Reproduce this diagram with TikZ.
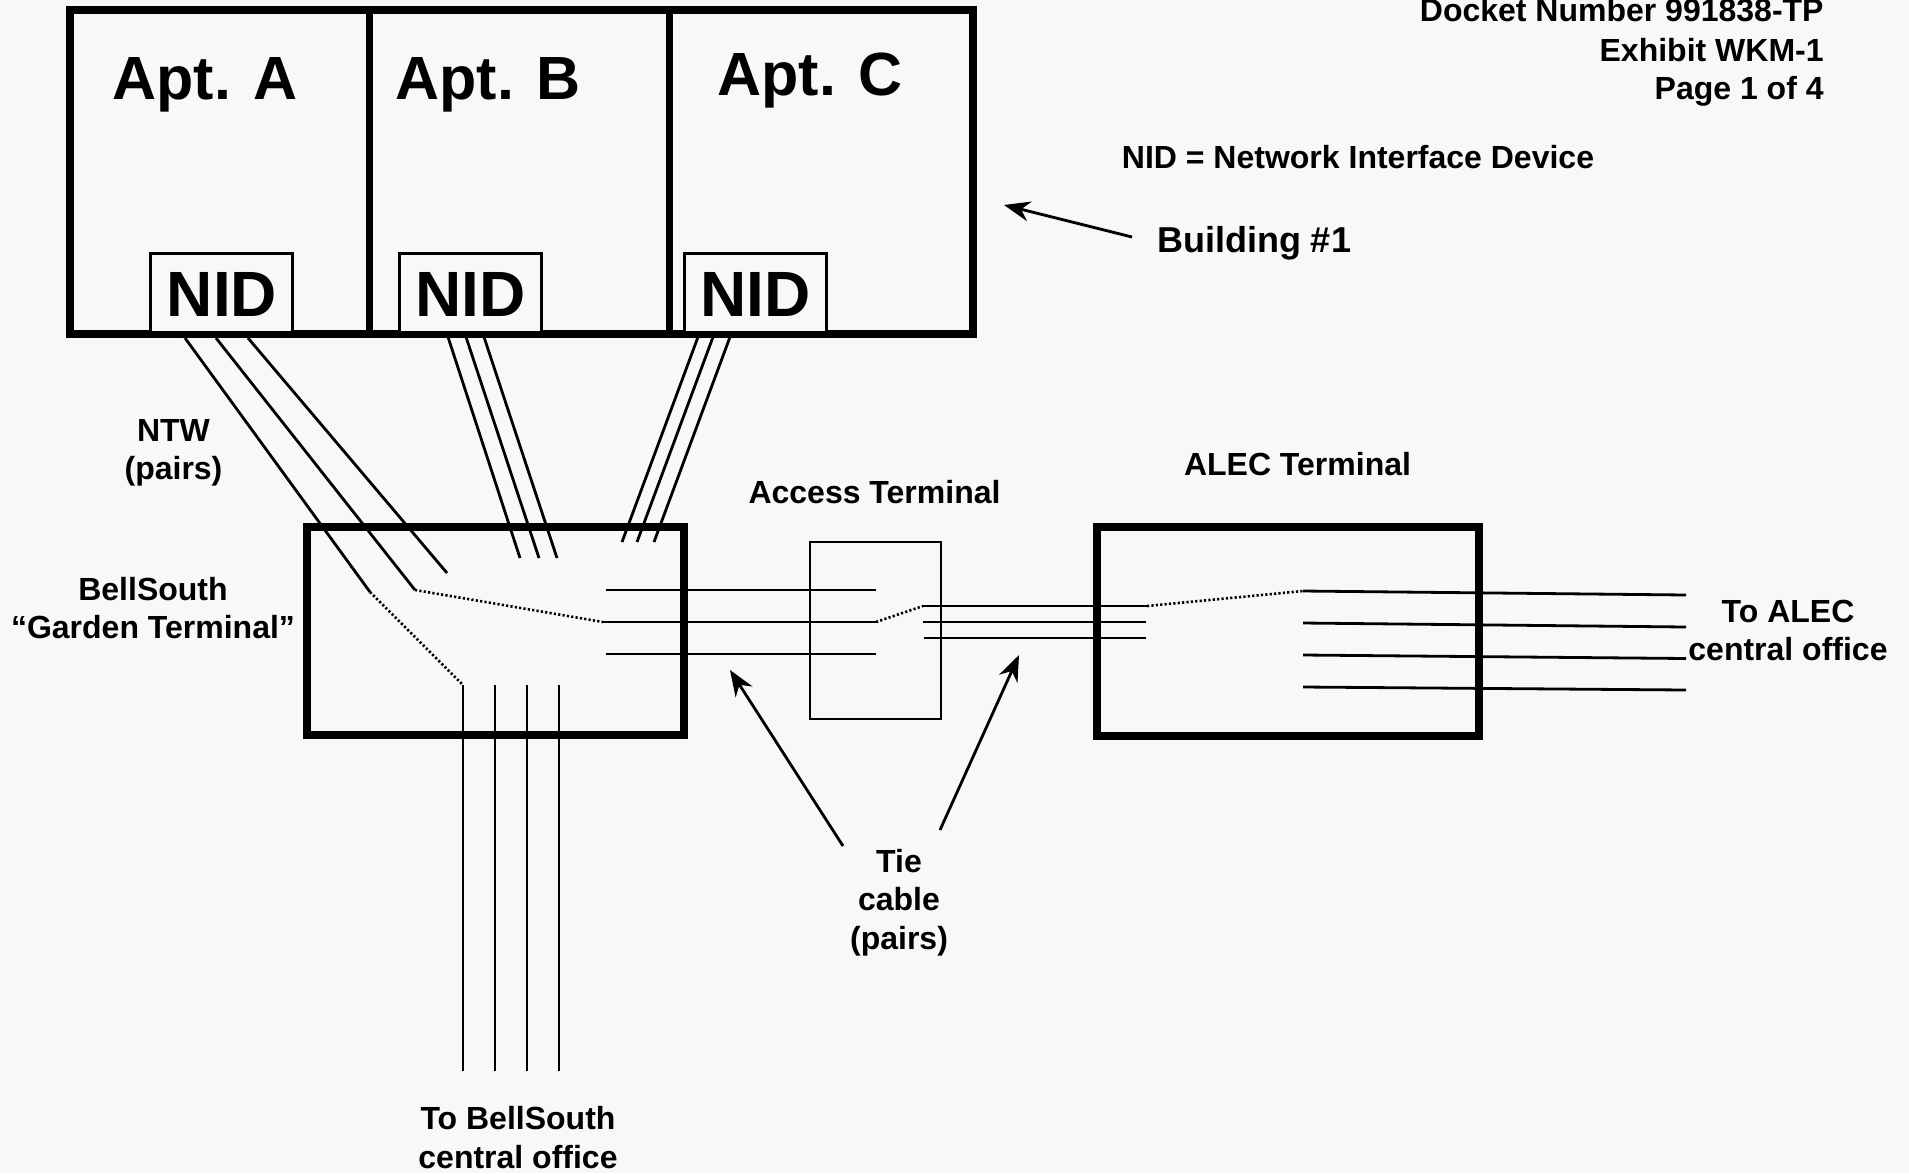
\documentclass[tikz,border=0pt]{standalone}
\usepackage{fontspec}
\setmainfont{Liberation Sans}
\usetikzlibrary{arrows.meta}
\definecolor{paper}{HTML}{F8F8F8}
\tikzset{
  wall/.style={draw=black,rectangle,inner sep=0pt,line width=4pt},
  room/.style={draw=black,line width=3.5pt},
  nidbox/.style={draw=black,fill=paper,rectangle,inner sep=0pt,line width=1.5pt,minimum width=71pt,minimum height=39.5pt},
  lightbox/.style={draw=black,rectangle,inner sep=0pt,line width=1.2pt},
  pair/.style={draw=black,line width=1.4pt},
  jumper/.style={draw=black,line width=1.3pt,dash pattern=on 1.1pt off 1.1pt},
  pointer/.style={draw=black,line width=1.4pt,-{Stealth[length=13pt,width=10pt]}},
  big/.style={font=\bfseries\fontsize{32}{38}\selectfont,anchor=base,inner sep=0pt},
  apt/.style={font=\bfseries\fontsize{30.5}{36}\selectfont,anchor=base,inner sep=0pt},
  lab/.style={font=\bfseries\fontsize{16}{19.25}\selectfont,align=center,inner sep=0pt},
  lead/.style={font=\bfseries\fontsize{18}{22}\selectfont,inner sep=0pt}
}
\begin{document}
\begin{tikzpicture}[x=0.5pt,y=-0.5pt]
\useasboundingbox (0,0) rectangle (1909,1173);
\fill[paper] (0,0) rectangle (1909,1173);
\clip (0,0) rectangle (1909,1173);

% building
\node[wall,minimum width=451.5pt,minimum height=162pt] (bldg) at (521.5,172) {};
\coordinate (d1t) at (369,10); \coordinate (d1b) at (369,334);
\coordinate (d2t) at (669,10); \coordinate (d2b) at (669,334);
\draw[room] (d1t) -- (d1b);
\draw[room] (d2t) -- (d2b);
\node[nidbox] (nidAbox) at (221,293) {};
\node[nidbox] (nidBbox) at (470.5,293) {};
\node[nidbox] (nidCbox) at (755.5,293) {};
\node[big] (nidA) at (222,316.5) {NID};
\node[big] (nidB) at (470.5,316.5) {NID};
\node[big] (nidC) at (755.5,316.5) {NID};
\node[apt] (aptA) at (205,99) {Apt. A};
\node[apt] (aptB) at (488,99.5) {Apt. B};
\node[apt] (aptC) at (810,95.5) {Apt. C};

% terminals
\node[wall,minimum width=188.5pt,minimum height=104pt] (garden) at (495.5,631) {};
\node[lightbox,minimum width=65.5pt,minimum height=88.5pt] (access) at (875.5,630.5) {};
\node[wall,minimum width=191pt,minimum height=104.5pt] (alec) at (1288,631.5) {};

% NTW pairs
\coordinate (a1) at (185,338); \coordinate (a1e) at (370,592);
\coordinate (a2) at (216,338); \coordinate (a2e) at (415,590);
\coordinate (a3) at (248,338); \coordinate (a3e) at (447,573);
\coordinate (b1) at (448,337); \coordinate (b1e) at (520,558);
\coordinate (b2) at (466,337); \coordinate (b2e) at (539,558);
\coordinate (b3) at (484,337); \coordinate (b3e) at (557,558);
\coordinate (c1) at (698,337); \coordinate (c1e) at (622,542);
\coordinate (c2) at (713,337); \coordinate (c2e) at (637,542);
\coordinate (c3) at (730,337); \coordinate (c3e) at (654,542);
\foreach \s/\e in {a1/a1e,a2/a2e,a3/a3e,b1/b1e,b2/b2e,b3/b3e,c1/c1e,c2/c2e,c3/c3e}
  \draw[pair] (\s) -- (\e);

% to BellSouth central office
\coordinate (v1) at (463,685); \coordinate (v1e) at (463,1071);
\coordinate (v2) at (495,685); \coordinate (v2e) at (495,1071);
\coordinate (v3) at (527,685); \coordinate (v3e) at (527,1071);
\coordinate (v4) at (559,685); \coordinate (v4e) at (559,1071);
\foreach \s/\e in {v1/v1e,v2/v2e,v3/v3e,v4/v4e}
  \draw[pair] (\s) -- (\e);

% tie cable, garden to access
\coordinate (t1) at (606,590); \coordinate (t1e) at (876,590);
\coordinate (t2) at (603,622); \coordinate (t2e) at (876,622);
\coordinate (t3) at (606,654); \coordinate (t3e) at (876,654);
\foreach \s/\e in {t1/t1e,t2/t2e,t3/t3e}
  \draw[pair] (\s) -- (\e);

% tie cable, access to ALEC
\coordinate (u1) at (923,606); \coordinate (u1e) at (1147,606);
\coordinate (u2) at (923,622); \coordinate (u2e) at (1146,622);
\coordinate (u3) at (924,638); \coordinate (u3e) at (1146,638);
\foreach \s/\e in {u1/u1e,u2/u2e,u3/u3e}
  \draw[pair] (\s) -- (\e);

% to ALEC central office
\coordinate (r1) at (1303,591); \coordinate (r1e) at (1686,595);
\coordinate (r2) at (1303,623); \coordinate (r2e) at (1686,627);
\coordinate (r3) at (1303,655); \coordinate (r3e) at (1686,658.5);
\coordinate (r4) at (1303,687); \coordinate (r4e) at (1686,690);
\foreach \s/\e in {r1/r1e,r2/r2e,r3/r3e,r4/r4e}
  \draw[pair] (\s) -- (\e);

% dotted cross-connects
\draw[jumper] (a1e) -- (v1);
\draw[jumper] (a2e) -- (t2);
\draw[jumper] (t2e) -- (u1);
\draw[jumper] (u1e) -- (r1);

% labels
\node[lab,anchor=east] (d1) at (1824,10) {Docket Number 991838-TP};
\node[lab,anchor=east] (d2) at (1824,50) {Exhibit WKM-1};
\node[lab,anchor=east] (d3) at (1824,91) {Page 1 of 4};
\node[lab] (nidnote) at (1358,157) {NID = Network Interface Device};
\node[lead] (bnum) at (1254,243) {Building \#1};
\node[lab] (ntw) at (173.5,453) {NTW\\(pairs)};
\node[lab] (gt) at (153,608) {BellSouth\\“Garden Terminal”};
\node[lab] (at) at (874.5,492) {Access Terminal};
\node[lab] (aleclab) at (1297.5,464) {ALEC Terminal};
\node[lab] (toalec) at (1788,630.5) {To ALEC\\central office};
\node[lab] (tie) at (899,902.5) {Tie\\cable\\(pairs)};
\node[lab] (tobs) at (518,1137.5) {To BellSouth\\central office};

% pointers
\coordinate (p1) at (1004,205); \coordinate (p2) at (730,670); \coordinate (p3) at (1019,655);
\coordinate (q1) at (1132,237); \coordinate (q2) at (843,846); \coordinate (q3) at (940,830);
\draw[pointer] (q1) -- (p1);
\draw[pointer] (q2) -- (p2);
\draw[pointer] (q3) -- (p3);
\end{tikzpicture}
\end{document}
